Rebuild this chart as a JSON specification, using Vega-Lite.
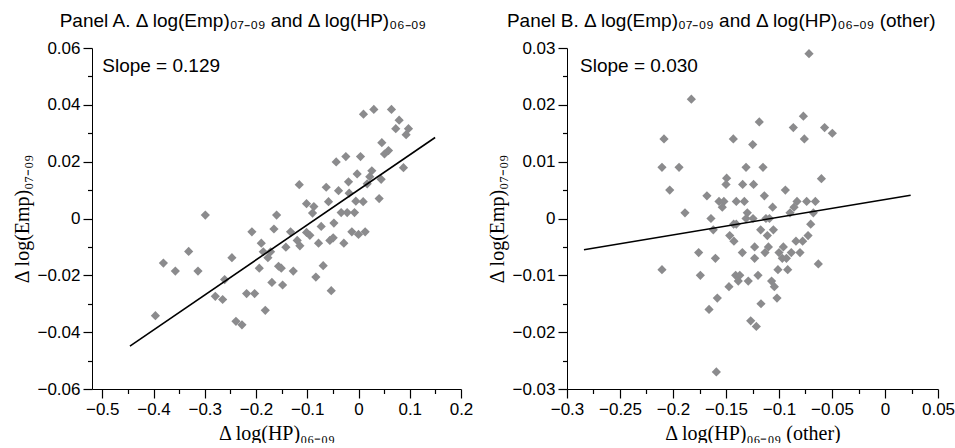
{
  "$schema": "https://vega.github.io/schema/vega-lite/v6.json",
  "background": "white",
  "padding": {"left": 12, "top": 12, "right": 3, "bottom": 0},
  "config": {
    "view": {"stroke": null},
    "font": "Liberation Sans",
    "title": {"font": "Liberation Sans", "fontSize": 19, "fontWeight": "normal", "color": "#000", "anchor": "middle", "frame": "bounds", "offset": 8},
    "axis": {"grid": false, "ticks": true, "domainColor": "#000", "tickColor": "#000", "labelColor": "#000", "titleColor": "#000", "labelFont": "Liberation Sans", "labelFontSize": 17, "titleFont": "Liberation Serif", "titleFontSize": 20, "titleFontWeight": "normal", "domainWidth": 1, "tickWidth": 1.2, "labelPadding": 3, "labelFlush": false, "labelOverlap": false, "format": "~g", "tickSize": 9}
  },
  "datasets": {
    "a": [
      {"x": 0.0097, "y": 0.0367}, {"x": 0.0299, "y": 0.0384}, {"x": 0.0643, "y": 0.0384}, {"x": 0.0793, "y": 0.0346},
      {"x": 0.0727, "y": 0.0316}, {"x": 0.0975, "y": 0.0316}, {"x": 0.0929, "y": 0.0295}, {"x": 0.0455, "y": 0.0267},
      {"x": 0.0585, "y": 0.0239}, {"x": 0.0507, "y": 0.0227}, {"x": -0.0435, "y": 0.0199}, {"x": -0.0247, "y": 0.0218},
      {"x": 0.0039, "y": 0.0218}, {"x": 0.0877, "y": 0.0179}, {"x": -0.1156, "y": 0.0119}, {"x": -0.063, "y": 0.011},
      {"x": -0.039, "y": 0.0098}, {"x": -0.0195, "y": 0.0129}, {"x": -0.0026, "y": 0.0157}, {"x": 0.026, "y": 0.0168},
      {"x": 0.022, "y": 0.0147}, {"x": 0.017, "y": 0.0122}, {"x": 0.0442, "y": 0.0138}, {"x": 0.0403, "y": 0.007},
      {"x": -0.0182, "y": 0.0089}, {"x": -0.0052, "y": 0.0061}, {"x": 0.0091, "y": 0.0059}, {"x": -0.0585, "y": 0.0059},
      {"x": -0.1014, "y": 0.0052}, {"x": -0.0871, "y": 0.0042}, {"x": -0.0897, "y": 0.0019}, {"x": -0.0338, "y": 0.0021},
      {"x": -0.0221, "y": 0.0021}, {"x": -0.0078, "y": 0.0021}, {"x": -0.048, "y": -0.0016}, {"x": -0.0728, "y": -0.0028},
      {"x": -0.1598, "y": 0.0012}, {"x": -0.165, "y": -0.0037}, {"x": -0.1326, "y": -0.0047}, {"x": -0.1014, "y": -0.0049},
      {"x": -0.0949, "y": -0.0059}, {"x": -0.013, "y": -0.0047}, {"x": 0.0, "y": -0.0056}, {"x": 0.013, "y": -0.0047},
      {"x": -0.0559, "y": -0.0077}, {"x": -0.0494, "y": -0.0068}, {"x": -0.0286, "y": -0.0087}, {"x": -0.078, "y": -0.0087},
      {"x": -0.1196, "y": -0.0077}, {"x": -0.1144, "y": -0.0096}, {"x": -0.1417, "y": -0.0101}, {"x": -0.2989, "y": 0.0012},
      {"x": -0.208, "y": -0.0047}, {"x": -0.1897, "y": -0.0087}, {"x": -0.1858, "y": -0.0117}, {"x": -0.1715, "y": -0.0117},
      {"x": -0.1768, "y": -0.0138}, {"x": -0.247, "y": -0.0138}, {"x": -0.3314, "y": -0.0116}, {"x": -0.3807, "y": -0.0157},
      {"x": -0.3574, "y": -0.0185}, {"x": -0.3132, "y": -0.0185}, {"x": -0.1936, "y": -0.0175}, {"x": -0.156, "y": -0.0168},
      {"x": -0.1507, "y": -0.0175}, {"x": -0.1273, "y": -0.0185}, {"x": -0.0689, "y": -0.0166}, {"x": -0.0832, "y": -0.0206},
      {"x": -0.169, "y": -0.0225}, {"x": -0.1481, "y": -0.0234}, {"x": -0.2612, "y": -0.0215}, {"x": -0.2794, "y": -0.0274},
      {"x": -0.2651, "y": -0.0285}, {"x": -0.2183, "y": -0.0264}, {"x": -0.2027, "y": -0.0264}, {"x": -0.0532, "y": -0.0254},
      {"x": -0.1819, "y": -0.0323}, {"x": -0.2391, "y": -0.0362}, {"x": -0.2274, "y": -0.0374}, {"x": -0.3963, "y": -0.0342}
    ],
    "b": [
      {"x": -0.0717, "y": 0.029}, {"x": -0.1827, "y": 0.021}, {"x": -0.077, "y": 0.018}, {"x": -0.1186, "y": 0.017},
      {"x": -0.0865, "y": 0.016}, {"x": -0.057, "y": 0.016}, {"x": -0.0497, "y": 0.015}, {"x": -0.2085, "y": 0.014},
      {"x": -0.1431, "y": 0.014}, {"x": -0.0761, "y": 0.014}, {"x": -0.1248, "y": 0.013}, {"x": -0.2104, "y": 0.009},
      {"x": -0.1943, "y": 0.009}, {"x": -0.1311, "y": 0.009}, {"x": -0.1151, "y": 0.009}, {"x": -0.1494, "y": 0.0071},
      {"x": -0.06, "y": 0.007}, {"x": -0.15, "y": 0.006}, {"x": -0.1343, "y": 0.006}, {"x": -0.124, "y": 0.006},
      {"x": -0.2031, "y": 0.005}, {"x": -0.094, "y": 0.005}, {"x": -0.168, "y": 0.004}, {"x": -0.1138, "y": 0.004},
      {"x": -0.1566, "y": 0.003}, {"x": -0.152, "y": 0.003}, {"x": -0.1403, "y": 0.003}, {"x": -0.1327, "y": 0.003},
      {"x": -0.083, "y": 0.003}, {"x": -0.0739, "y": 0.003}, {"x": -0.0657, "y": 0.003}, {"x": -0.1535, "y": 0.002},
      {"x": -0.106, "y": 0.002}, {"x": -0.0858, "y": 0.002}, {"x": -0.1887, "y": 0.001}, {"x": -0.1299, "y": 0.001},
      {"x": -0.0896, "y": 0.001}, {"x": -0.0676, "y": 0.001}, {"x": -0.1642, "y": 0.0}, {"x": -0.1311, "y": 0.0},
      {"x": -0.1245, "y": 0.0}, {"x": -0.1123, "y": 0.0}, {"x": -0.109, "y": 0.0}, {"x": -0.162, "y": -0.002},
      {"x": -0.1428, "y": -0.001}, {"x": -0.1403, "y": -0.001}, {"x": -0.1173, "y": -0.002}, {"x": -0.1053, "y": -0.002},
      {"x": -0.0701, "y": -0.001}, {"x": -0.1465, "y": -0.003}, {"x": -0.111, "y": -0.003}, {"x": -0.0726, "y": -0.003},
      {"x": -0.1425, "y": -0.004}, {"x": -0.084, "y": -0.004}, {"x": -0.0777, "y": -0.004}, {"x": -0.123, "y": -0.005},
      {"x": -0.0959, "y": -0.005}, {"x": -0.11, "y": -0.005}, {"x": -0.1758, "y": -0.006}, {"x": -0.1346, "y": -0.006},
      {"x": -0.1132, "y": -0.006}, {"x": -0.1, "y": -0.006}, {"x": -0.0884, "y": -0.006}, {"x": -0.0802, "y": -0.006},
      {"x": -0.16, "y": -0.007}, {"x": -0.123, "y": -0.007}, {"x": -0.0969, "y": -0.007}, {"x": -0.093, "y": -0.007},
      {"x": -0.0629, "y": -0.008}, {"x": -0.2104, "y": -0.009}, {"x": -0.101, "y": -0.009}, {"x": -0.0918, "y": -0.009},
      {"x": -0.1742, "y": -0.01}, {"x": -0.1409, "y": -0.01}, {"x": -0.137, "y": -0.01}, {"x": -0.1198, "y": -0.01},
      {"x": -0.1384, "y": -0.011}, {"x": -0.129, "y": -0.011}, {"x": -0.107, "y": -0.011}, {"x": -0.1472, "y": -0.012},
      {"x": -0.1044, "y": -0.012}, {"x": -0.1582, "y": -0.014}, {"x": -0.1019, "y": -0.014}, {"x": -0.117, "y": -0.015},
      {"x": -0.166, "y": -0.016}, {"x": -0.1267, "y": -0.018}, {"x": -0.1214, "y": -0.019}, {"x": -0.1591, "y": -0.027}
    ],
    "lineA": [{"x": -0.446, "y": -0.0449}, {"x": 0.1495, "y": 0.0285}],
    "lineB": [{"x": -0.284, "y": -0.0055}, {"x": 0.0242, "y": 0.0041}],
    "labA": [{"x": -0.5, "y": 0.0535, "t": "Slope = 0.129"}],
    "labB": [{"x": -0.2877, "y": 0.0268, "t": "Slope = 0.030"}]
  },
  "spacing": 14,
  "hconcat": [
    {
      "title": {"text": "Panel A. Δ log(Emp)₀₇₋₀₉ and Δ log(HP)₀₆₋₀₉"},
      "width": 369,
      "height": 341,
      "resolve": {"axis": {"x": "independent", "y": "independent"}},
      "layer": [
        {"data": {"name": "a"}, "mark": {"type": "point", "shape": "diamond", "filled": true, "size": 85, "color": "#8b8b8d", "opacity": 1},
          "encoding": {
            "x": {"field": "x", "type": "quantitative", "scale": {"domain": [-0.52, 0.2], "nice": false, "zero": false},
              "axis": {"title": "Δ log(HP)₀₆₋₀₉", "orient": "bottom", "values": [-0.5, -0.4, -0.3, -0.2, -0.1, 0, 0.1, 0.2], "titlePadding": 6, "ticks": true, "tickSize": 9}},
            "y": {"field": "y", "type": "quantitative", "scale": {"domain": [-0.06, 0.06], "nice": false, "zero": false},
              "axis": {"title": "Δ log(Emp)₀₇₋₀₉", "orient": "left", "values": [-0.06, -0.04, -0.02, 0, 0.02, 0.04, 0.06], "ticks": true, "tickSize": 9}}
          }},
        {"data": {"name": "lineA"}, "mark": {"type": "line", "color": "#000", "strokeWidth": 1.6},
          "encoding": {
            "x": {"field": "x", "type": "quantitative", "axis": {"title": null, "orient": "bottom", "labels": false, "domain": false, "ticks": true, "tickSize": 4.5, "values": [-0.45, -0.35, -0.25, -0.15, -0.05, 0.05, 0.15]}},
            "y": {"field": "y", "type": "quantitative", "axis": {"title": null, "orient": "left", "labels": false, "domain": false, "ticks": true, "tickSize": 4.5, "values": [-0.05, -0.03, -0.01, 0.01, 0.03, 0.05]}}
          }},
        {"data": {"name": "labA"}, "mark": {"type": "text", "align": "left", "baseline": "middle", "fontSize": 19, "font": "Liberation Sans", "color": "#000"},
          "encoding": {
            "x": {"field": "x", "type": "quantitative", "axis": null},
            "y": {"field": "y", "type": "quantitative", "axis": null},
            "text": {"field": "t"}
          }}
      ]
    },
    {
      "title": {"text": "Panel B. Δ log(Emp)₀₇₋₀₉ and Δ log(HP)₀₆₋₀₉ (other)"},
      "width": 371,
      "height": 341,
      "resolve": {"axis": {"x": "independent", "y": "independent"}},
      "layer": [
        {"data": {"name": "b"}, "mark": {"type": "point", "shape": "diamond", "filled": true, "size": 85, "color": "#8b8b8d", "opacity": 1},
          "encoding": {
            "x": {"field": "x", "type": "quantitative", "scale": {"domain": [-0.3, 0.05], "nice": false, "zero": false},
              "axis": {"title": "Δ log(HP)₀₆₋₀₉ (other)", "orient": "bottom", "values": [-0.3, -0.25, -0.2, -0.15, -0.1, -0.05, 0, 0.05], "titlePadding": 6, "ticks": true, "tickSize": 9}},
            "y": {"field": "y", "type": "quantitative", "scale": {"domain": [-0.03, 0.03], "nice": false, "zero": false},
              "axis": {"title": "Δ log(Emp)₀₇₋₀₉", "orient": "left", "values": [-0.03, -0.02, -0.01, 0, 0.01, 0.02, 0.03], "ticks": true, "tickSize": 9}}
          }},
        {"data": {"name": "lineB"}, "mark": {"type": "line", "color": "#000", "strokeWidth": 1.6},
          "encoding": {
            "x": {"field": "x", "type": "quantitative", "axis": {"title": null, "orient": "bottom", "labels": false, "domain": false, "ticks": true, "tickSize": 4.5, "values": [-0.275, -0.225, -0.175, -0.125, -0.075, -0.025, 0.025]}},
            "y": {"field": "y", "type": "quantitative", "axis": {"title": null, "orient": "left", "labels": false, "domain": false, "ticks": true, "tickSize": 4.5, "values": [-0.025, -0.015, -0.005, 0.005, 0.015, 0.025]}}
          }},
        {"data": {"name": "labB"}, "mark": {"type": "text", "align": "left", "baseline": "middle", "fontSize": 19, "font": "Liberation Sans", "color": "#000"},
          "encoding": {
            "x": {"field": "x", "type": "quantitative", "axis": null},
            "y": {"field": "y", "type": "quantitative", "axis": null},
            "text": {"field": "t"}
          }}
      ]
    }
  ]
}
